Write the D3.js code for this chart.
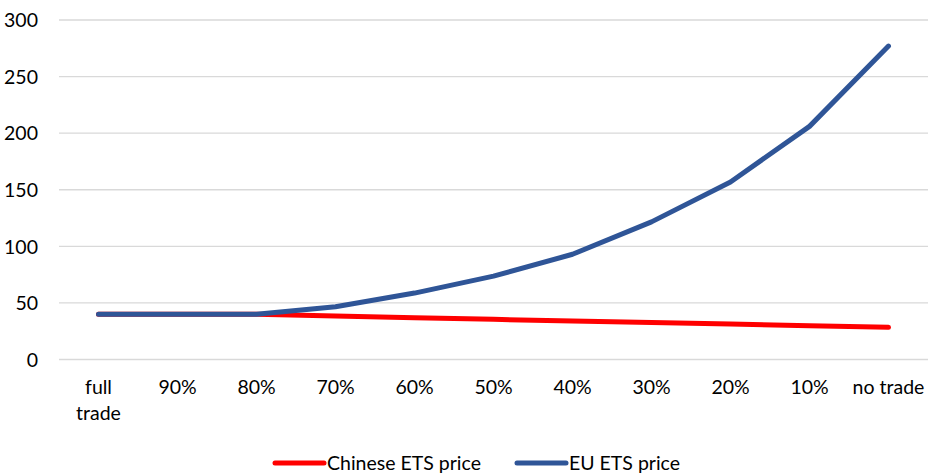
<!DOCTYPE html>
<html>
<head>
<meta charset="utf-8">
<script src="https://cdn.jsdelivr.net/npm/d3@7"></script>
<style>
  html, body { margin: 0; padding: 0; background: #fff; }
  svg { display: block; font-family: Lato, "Open Sans", sans-serif; }
</style>
</head>
<body>
<svg id="chart" width="935" height="474"></svg>
<script>
// Share of permits tradable between the two systems
const categories = ["full trade", "90%", "80%", "70%", "60%", "50%", "40%", "30%", "20%", "10%", "no trade"];
// Permit prices per scenario
const chinesePrice = [40, 40, 40, 38.5, 37, 35.5, 34, 32.7, 31.3, 29.8, 28.4];
const euPrice = [40, 40, 40, 46.6, 58.7, 73.7, 93, 121.6, 156.9, 206, 277];
const yTicks = [0, 50, 100, 150, 200, 250, 300];

const series = [
  { name: "Chinese ETS price", values: chinesePrice, color: "#FF0000" },
  { name: "EU ETS price", values: euPrice, color: "#2F5597" }
];

const FONT = 19.5;
const svg = d3.select("#chart");
const margin = { left: 59, right: 7, top: 20, bottom: 114.5 };
const W = 935, H = 474;

const x = d3.scaleBand().domain(categories).range([margin.left, W - margin.right]);
const y = d3.scaleLinear().domain([0, 300]).range([H - margin.bottom, margin.top]);

// Horizontal gridlines
svg.append("g")
  .selectAll("line")
  .data(yTicks)
  .join("line")
  .attr("x1", margin.left)
  .attr("x2", W - margin.right)
  .attr("y1", d => y(d))
  .attr("y2", d => y(d))
  .attr("stroke", "#D9D9D9")
  .attr("stroke-width", 1.3);

// Y axis labels
const yAxis = d3.axisLeft(y).tickValues(yTicks).tickSize(0).tickPadding(0);
const yg = svg.append("g").attr("transform", "translate(38,0)").call(yAxis);
yg.select(".domain").remove();
yg.selectAll("text")
  .attr("font-size", FONT)
  .attr("font-family", "Lato, 'Open Sans', sans-serif")
  .attr("fill", "#000")
  .attr("dy", "0.35em");

// X axis labels (wrapped onto two lines where needed)
const xAxis = d3.axisBottom(x).tickSize(0).tickPadding(0);
const xg = svg.append("g").attr("transform", `translate(0,${y(0)})`).call(xAxis);
xg.select(".domain").remove();
xg.selectAll("text")
  .attr("font-size", FONT)
  .attr("font-family", "Lato, 'Open Sans', sans-serif")
  .attr("fill", "#000")
  .attr("y", 0)
  .attr("dy", null)
  .each(function (d) {
    const t = d3.select(this);
    t.text(null);
    const lines = d === "full trade" ? ["full", "trade"] : [d];
    lines.forEach((ln, i) => {
      t.append("tspan").attr("x", 0).attr("y", 34 + i * 26).text(ln);
    });
  });

// Series lines
const line = d3.line()
  .x((d, i) => x(categories[i]) + x.bandwidth() / 2)
  .y(d => y(d));

svg.append("g")
  .selectAll("path")
  .data(series)
  .join("path")
  .attr("d", s => line(s.values))
  .attr("fill", "none")
  .attr("stroke", s => s.color)
  .attr("stroke-width", 5)
  .attr("stroke-linejoin", "round")
  .attr("stroke-linecap", "round");

// Legend
const legendY = 463;
const legendItems = [
  { s: series[0], x0: 275 },
  { s: series[1], x0: 517 }
];
const lg = svg.append("g");
legendItems.forEach(({ s, x0 }) => {
  lg.append("line")
    .attr("x1", x0).attr("x2", x0 + 49)
    .attr("y1", legendY).attr("y2", legendY)
    .attr("stroke", s.color)
    .attr("stroke-width", 5)
    .attr("stroke-linecap", "round");
  lg.append("text")
    .attr("x", x0 + 52)
    .attr("y", legendY)
    .attr("dy", "0.35em")
    .attr("font-size", FONT)
    .attr("fill", "#000")
    .text(s.name);
});
</script>
</body>
</html>
